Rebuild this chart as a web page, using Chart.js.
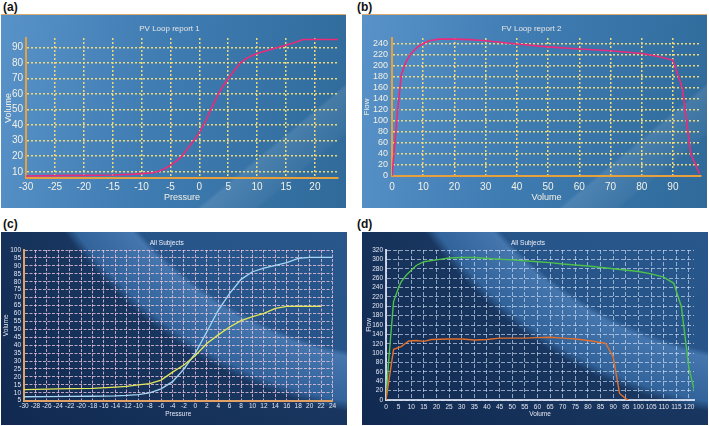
<!DOCTYPE html>
<html>
<head>
<meta charset="utf-8">
<script src="https://cdn.jsdelivr.net/npm/chart.js@4.4.1/dist/chart.umd.min.js"></script>
<style>
  body { margin: 0; width: 709px; height: 426px; background: #fff; position: relative; overflow: hidden; font-family: "Liberation Sans", Arial, sans-serif; }
  .tag { position: absolute; font-weight: bold; font-size: 12px; color: #111; }
  .panel { position: absolute; }
  .panel canvas { position: absolute; left: 0; top: 0; }
  .light {
    border-top: 1px solid #d9aa6c;
    background:
      linear-gradient(140deg, rgba(255,255,255,0) 74%, rgba(255,255,255,0.10) 75%, rgba(255,255,255,0.04) 84%, rgba(255,255,255,0) 85%),
      linear-gradient(100deg, #5892c9 0%, #3f7cb2 45%, #2f6a9a 100%);
  }
  .dark {
    background: radial-gradient(circle at 420px -250px, #2a5a8d 0px, #27558a 376px, #4577ae 382px, #32639a 426px, #18365f 436px, #10284f 620px);
  }
</style>
</head>
<body>
<div class="tag" style="left:3px;top:0px">(a)</div>
<div class="tag" style="left:357px;top:0px">(b)</div>
<div class="tag" style="left:3px;top:217px">(c)</div>
<div class="tag" style="left:357px;top:217px">(d)</div>

<div class="panel light" style="left:1px;top:14px;width:345px;height:193px"><canvas id="pvChart" width="345" height="193"></canvas></div>
<div class="panel light" style="left:362px;top:14px;width:345px;height:193px"><canvas id="fvChart" width="345" height="193"></canvas></div>
<div class="panel dark" style="left:1px;top:232px;width:346px;height:193px"><canvas id="allPvChart" width="346" height="193"></canvas></div>
<div class="panel dark" style="left:362px;top:232px;width:346px;height:193px"><canvas id="allFvChart" width="346" height="193"></canvas></div>

<script>
// (a) PV loop report 1
const pvPressure = [-30, -25, -20, -15, -12, -10, -8, -7, -6, -5, -4, -3, -2, -1, 0, 1, 2, 3, 4, 5, 6, 7, 8, 9, 10, 12, 14, 16, 18, 24];
const pvVolume = [7.3, 7.5, 7.7, 7.9, 8.3, 8.8, 9.4, 10.4, 12, 14.2, 16.8, 20, 25, 30, 35, 42, 50, 58, 64.5, 70, 75, 79.5, 82.5, 84.5, 86, 88.3, 90.4, 92.5, 95, 95];
const pvPressureTicks = [-30, -25, -20, -15, -10, -5, 0, 5, 10, 15, 20];
const pvVolumeTicks = [10, 20, 30, 40, 50, 60, 70, 80, 90];

// (b) FV loop report 2
const fvVolume = [0, 1, 2, 3, 4.5, 6, 8, 10, 12, 15, 20, 25, 30, 40, 50, 60, 70, 80, 85, 90, 93, 95.7, 98.5];
const fvFlow = [0, 65, 130, 184, 207, 221, 233, 240, 245, 248, 248, 247, 245, 239, 234, 230, 227, 222, 217, 210, 160, 40, 4];
const fvVolumeTicks = [0, 10, 20, 30, 40, 50, 60, 70, 80, 90];
const fvFlowTicks = [0, 20, 40, 60, 80, 100, 120, 140, 160, 180, 200, 220, 240];

// (c) all subjects, pressure / volume
const allPressureBlue = [-30, -26, -22, -18, -14, -12, -10, -8, -6, -4, -2, 0, 2, 4, 6, 8, 10, 12, 14, 16, 18, 20, 24];
const allVolumeBlue = [7.5, 7.6, 7.7, 7.8, 8, 8.3, 8.8, 10, 12.5, 17, 25, 35, 48.5, 62, 72.7, 81.5, 86.3, 88.5, 90.3, 92, 94.7, 95.3, 95.4];
const allPressureYellow = [-30, -26, -22, -18, -14, -12, -10, -8, -6, -4, -2, 0, 2, 4, 6, 8, 10, 12, 14, 16, 18, 20, 22];
const allVolumeYellow = [12, 12.3, 12.6, 12.8, 13.5, 14, 15, 15.8, 18, 23, 27.5, 33.5, 41, 46.5, 51.5, 55.5, 58, 60, 63.2, 64.5, 64.5, 64.5, 64.5];
const allPvPressureTicks = [-30, -28, -26, -24, -22, -20, -18, -16, -14, -12, -10, -8, -6, -4, -2, 0, 2, 4, 6, 8, 10, 12, 14, 16, 18, 20, 22, 24];
const allPvVolumeTicks = [5, 10, 15, 20, 25, 30, 35, 40, 45, 50, 55, 60, 65, 70, 75, 80, 85, 90, 95, 100];

// (d) all subjects, volume / flow
const allVolumeGreen = [0, 1, 3, 5, 6, 8, 10, 12, 15, 20, 25, 30, 35, 40, 50, 60, 65, 70, 80, 90, 100, 105, 110, 114, 117, 120, 122.5];
const allFlowGreen = [0, 80, 210, 240, 252, 266, 277, 287, 295, 299, 303, 304, 304, 302, 299, 295, 293, 290, 286, 280, 274, 269, 262, 249, 199, 67, 13];
const allVolumeOrange = [0, 3, 6, 9, 12, 15, 18, 25, 30, 35, 40, 45, 55, 60, 65, 70, 75, 80, 87, 90, 92.5, 95, 96];
const allFlowOrange = [0, 108, 114, 126, 127, 125, 129, 130, 130, 128, 129, 132, 132, 133, 134, 132, 130, 127, 121, 92, 14, 3, 0];
const allFvVolumeTicks = [0, 5, 10, 15, 20, 25, 30, 35, 40, 45, 50, 55, 60, 65, 70, 75, 80, 85, 90, 95, 100, 105, 110, 115, 120];
const allFvFlowTicks = [0, 20, 40, 60, 80, 100, 120, 140, 160, 180, 200, 220, 240, 260, 280, 300, 320];

const FONT = '"Liberation Sans", Arial, sans-serif';

function points(xs, ys) {
  return xs.map((x, i) => ({ x: x, y: ys[i] }));
}

function axis(o) {
  return {
    type: "linear",
    min: o.min,
    max: o.max,
    afterBuildTicks: (scale) => {
      scale.ticks = o.ticks.map((v) => ({ value: v }));
    },
    afterFit: (scale) => {
      if (o.size !== undefined) {
        if (scale.isHorizontal()) scale.height = o.size;
        else scale.width = o.size;
      }
    },
    grid: { color: o.gridColor, lineWidth: o.gridWidth, drawTicks: false },
    border: { color: o.axisColor, width: 2, dash: o.dash },
    ticks: {
      color: o.tickColor,
      font: { family: FONT, size: o.tickSize, weight: o.tickWeight || "normal" },
      padding: o.tickPad,
      autoSkip: false,
      maxRotation: 0,
    },
    title: {
      display: true,
      text: o.title,
      color: o.tickColor,
      font: { family: FONT, size: o.titleSize },
      padding: o.titlePad,
    },
  };
}

function makeChart(id, cfg) {
  const ctx = document.getElementById(id).getContext("2d");
  return new Chart(ctx, {
    type: "scatter",
    data: {
      datasets: cfg.series.map((s) => ({
        data: points(s.x, s.y),
        borderColor: s.color,
        borderWidth: s.width,
        showLine: true,
        pointRadius: 0,
        tension: 0,
      })),
    },
    options: {
      responsive: false,
      animation: false,
      layout: { padding: { left: 0, right: cfg.padRight, top: 0, bottom: 0 } },
      plugins: {
        legend: { display: false },
        tooltip: { enabled: false },
        title: {
          display: true,
          text: cfg.title,
          color: cfg.titleColor,
          font: { family: FONT, size: cfg.titleSize, weight: "normal" },
          padding: cfg.titlePad,
        },
      },
      scales: { x: axis(cfg.x), y: axis(cfg.y) },
    },
  });
}

// top row: light blue reports
const lightGrid = "rgba(246, 222, 122, 0.95)";
const lightAxis = "#e6a03c";
const lightTick = "#f4f1e4";

makeChart("pvChart", {
  title: "PV Loop report 1",
  titleColor: "#e6e6e6",
  titleSize: 8,
  titlePad: { top: 9, bottom: 4.4 },
  padRight: 8,
  series: [{ x: pvPressure, y: pvVolume, color: "#ec2a7c", width: 1.6 }],
  x: { min: -30, max: 24, ticks: pvPressureTicks, size: 30, gridColor: lightGrid, gridWidth: 1.5, dash: [2, 2], axisColor: lightAxis,
       tickColor: lightTick, tickSize: 10, tickPad: 3, title: "Pressure", titleSize: 9, titlePad: { top: 0, bottom: 5 } },
  y: { min: 6, max: 96, ticks: pvVolumeTicks, size: 25, gridColor: lightGrid, gridWidth: 1.5, dash: [2, 2], axisColor: lightAxis,
       tickColor: lightTick, tickSize: 10, tickPad: 3, title: "Volume", titleSize: 9, titlePad: { top: 2, bottom: 0 } },
});

makeChart("fvChart", {
  title: "FV Loop report 2",
  titleColor: "#e6e6e6",
  titleSize: 8,
  titlePad: { top: 9, bottom: 4.4 },
  padRight: 6,
  series: [{ x: fvVolume, y: fvFlow, color: "#ec2a7c", width: 1.6 }],
  x: { min: 0, max: 99, ticks: fvVolumeTicks, size: 32, gridColor: lightGrid, gridWidth: 1.5, dash: [2, 2], axisColor: lightAxis,
       tickColor: lightTick, tickSize: 10, tickPad: 5, title: "Volume", titleSize: 9, titlePad: { top: 0, bottom: 5 } },
  y: { min: 0, max: 250, ticks: fvFlowTicks, size: 30, gridColor: lightGrid, gridWidth: 1.5, dash: [2, 2], axisColor: lightAxis,
       tickColor: lightTick, tickSize: 9, tickPad: 4, title: "Flow", titleSize: 8, titlePad: { top: 0, bottom: 0 } },
});

// bottom row: dark "All Subjects"
const pvGrid = "rgba(238, 198, 222, 0.8)";
const fvGrid = "rgba(218, 230, 252, 0.62)";
const darkTick = "#e4e6f2";

makeChart("allPvChart", {
  title: "All Subjects",
  titleColor: "#eef0f8",
  titleSize: 6.5,
  titlePad: { top: 7, bottom: 3.2 },
  padRight: 14.5,
  series: [
    { x: allPressureYellow, y: allVolumeYellow, color: "#e4e65a", width: 1.3 },
    { x: allPressureBlue, y: allVolumeBlue, color: "#a6d6f2", width: 1.3 },
  ],
  x: { min: -30, max: 24, ticks: allPvPressureTicks, size: 24.3, gridColor: pvGrid, gridWidth: 1, dash: [3, 1.5], axisColor: "#e0a066",
       tickColor: darkTick, tickSize: 6.5, tickPad: 2, title: "Pressure", titleSize: 6.5, titlePad: { top: 0, bottom: 7 } },
  y: { min: 5, max: 100, ticks: allPvVolumeTicks, size: 23, gridColor: pvGrid, gridWidth: 1, dash: [3, 1.5], axisColor: "#e0a066",
       tickColor: darkTick, tickSize: 6.5, tickPad: 3, title: "Volume", titleSize: 6.5, titlePad: { top: 1.8, bottom: 0 } },
});

makeChart("allFvChart", {
  title: "All Subjects",
  titleColor: "#eef0f8",
  titleSize: 6.5,
  titlePad: { top: 7, bottom: 3.2 },
  padRight: 14,
  series: [
    { x: allVolumeOrange, y: allFlowOrange, color: "#e2702c", width: 1.4 },
    { x: allVolumeGreen, y: allFlowGreen, color: "#4cc04a", width: 1.4 },
  ],
  x: { min: 0, max: 122, ticks: allFvVolumeTicks, size: 25, gridColor: fvGrid, gridWidth: 1, dash: [4, 2], axisColor: "rgba(226,232,246,0.85)",
       tickColor: darkTick, tickSize: 6.5, tickPad: 3, title: "Volume", titleSize: 6.5, titlePad: { top: 0, bottom: 7 } },
  y: { min: 0, max: 320, ticks: allFvFlowTicks, size: 24, gridColor: fvGrid, gridWidth: 1, dash: [4, 2], axisColor: "rgba(226,232,246,0.85)",
       tickColor: darkTick, tickSize: 6.5, tickPad: 3, title: "Flow", titleSize: 6.5, titlePad: { top: 3, bottom: 0 } },
});
</script>
</body>
</html>
